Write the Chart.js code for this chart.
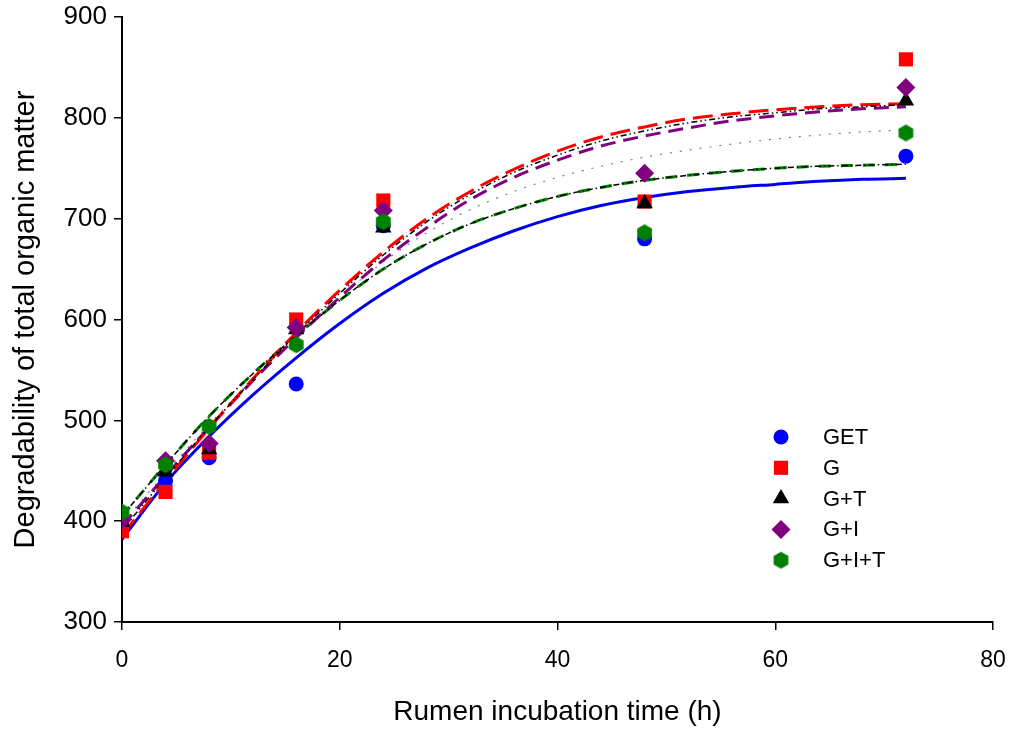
<!DOCTYPE html>
<html lang="en">
<head>
  <meta charset="UTF-8">
  <title>Degradability of total organic matter</title>
  <script src="https://cdn.jsdelivr.net/npm/chart.js"></script>
  <style>
    body { margin: 0; background: #fff; overflow: hidden; }
    #wrap { width: 1013px; height: 729px; }
  </style>
</head>
<body>
  <div id="wrap">
    <canvas id="degChart"></canvas>
  </div>

  <script>
    // Sampling times (h) of the measured points
    const times = [0, 4, 8, 16, 24, 48, 72];

    // Measured values per treatment
    const getPts = [395, 440, 463, 536, 693, 680, 762];
    const gPts   = [390, 429, 468, 600, 718, 717, 858];
    const gtPts  = [399, 449, 471, 590, 691, 715, 817];
    const giPts  = [401, 460, 477, 592, 708, 745, 830];
    const gitPts = [409, 456, 494, 575, 697, 686, 785];

    // Fitted curves, every 4 h
    const fitTimes = [0, 4, 8, 12, 16, 20, 24, 28, 32, 36, 40, 44, 48, 52, 56, 60, 64, 68, 72];
    const getFit   = [382, 438, 484, 525, 562, 596, 626, 651, 671, 688, 702, 713, 721, 727, 731, 734, 737, 739, 740];
    const gFit     = [386, 440, 492, 541, 587, 629, 667, 700, 727, 749, 767, 781, 791, 799, 804, 808, 811, 813, 814];
    const gtFit    = [391, 443, 493, 540, 585, 626, 664, 697, 724, 746, 763, 777, 787, 795, 801, 805, 809, 811, 813];
    const giFit    = [395, 445, 493, 539, 582, 622, 659, 691, 719, 741, 758, 772, 782, 790, 797, 802, 806, 809, 811];
    const gitFit   = [405, 456, 504, 546, 584, 619, 650, 675, 695, 710, 722, 731, 738, 743, 747, 750, 752, 753, 754];
    const dotFit   = [398, 448, 496, 541, 583, 622, 657, 686, 709, 727, 741, 752, 761, 768, 774, 779, 783, 786, 788];

    const xTicks = [0, 20, 40, 60, 80];
    const yTicks = [300, 400, 500, 600, 700, 800, 900];

    const seriesNames = ['GET', 'G', 'G+T', 'G+I', 'G+I+T'];

    const FONT = '"Liberation Sans", Arial, sans-serif';

    function toXY(xs, ys) {
      return xs.map((x, i) => ({ x: x, y: ys[i] }));
    }

    // Chart.js has no hexagon, so use a small canvas as point style
    function hexImage(color, r) {
      const c = document.createElement('canvas');
      const s = Math.ceil(r * 2) + 2;
      c.width = s; c.height = s;
      const g = c.getContext('2d');
      g.fillStyle = color;
      g.beginPath();
      for (let i = 0; i < 6; i++) {
        const a = Math.PI / 3 * i - Math.PI / 2;
        g.lineTo(s / 2 + r * Math.cos(a), s / 2 + r * Math.sin(a));
      }
      g.closePath();
      g.fill();
      return c;
    }

    function points(label, ys, color, style, radius) {
      return {
        label: label,
        data: toXY(times, ys),
        pointStyle: style,
        pointRadius: radius,
        pointHoverRadius: radius,
        backgroundColor: color,
        borderColor: color,
        pointBorderWidth: 0,
        showLine: false
      };
    }

    function curve(label, ys, color, width, dash) {
      return {
        label: label,
        data: toXY(fitTimes, ys),
        showLine: true,
        pointRadius: 0,
        borderColor: color,
        borderWidth: width,
        borderDash: dash,
        cubicInterpolationMode: 'monotone',
        fill: false
      };
    }

    // first dataset is drawn on top
    const datasets = [
      points('G+I+T', gitPts, '#008000', hexImage('#008000', 8.5), 8),
      points('G+I', giPts, '#800080', 'rectRot', 9.5),
      points('G+T', gtPts, '#000000', 'triangle', 9.5),
      points('G', gPts, '#ff0000', 'rect', 10),
      points('GET', getPts, '#0000ff', 'circle', 7.5),
      curve('fit G+T', gtFit, '#000000', 1.5, [6, 3, 1.5, 3, 1.5, 3]),
      curve('fit G+I+T (line)', gitFit, '#000000', 1.5, [6, 3, 1.5, 3]),
      curve('fit GET (line)', getFit, '#000000', 1, [1, 4]),
      curve('fit G', gFit, '#ff0000', 3, [20, 8]),
      curve('fit G+I', giFit, '#800080', 3, [15, 8]),
      curve('fit dotted', dotFit, '#808080', 1.2, [2, 8]),
      curve('fit G+I+T', gitFit, '#008000', 3, [12, 10]),
      curve('fit GET', getFit, '#0000ff', 3, [])
    ];

    const insideLegend = {
      id: 'insideLegend',
      afterDraw(chart) {
        const ctx = chart.ctx;
        ctx.save();
        ctx.font = '22px ' + FONT;
        ctx.textBaseline = 'middle';
        seriesNames.forEach((name, i) => {
          const ds = chart.data.datasets.find(d => d.label === name);
          const y = 437 + i * 30.8;
          ctx.fillStyle = ds.backgroundColor;
          Chart.helpers.drawPoint(ctx, {
            pointStyle: ds.pointStyle,
            radius: ds.pointRadius,
            rotation: 0,
            borderWidth: 0
          }, 781, y);
          ctx.fillStyle = '#000';
          ctx.fillText(name, 823, y + 1);
        });
        ctx.restore();
      }
    };

    const ctx = document.getElementById('degChart').getContext('2d');
    const degChart = new Chart(ctx, {
      type: 'scatter',
      data: { datasets: datasets },
      plugins: [insideLegend],
      options: {
        responsive: true,
        maintainAspectRatio: false,
        animation: false,
        devicePixelRatio: 1,
        layout: { padding: { top: 17, right: 20, left: 0, bottom: 0 } },
        plugins: {
          legend: { display: false },
          tooltip: { enabled: false }
        },
        scales: {
          x: {
            type: 'linear',
            min: 0,
            max: 80,
            afterBuildTicks: (scale) => { scale.ticks = xTicks.map(v => ({ value: v })); },
            afterFit: (scale) => {
              scale.height = 107;
              scale.paddingLeft = 0;
              scale.paddingRight = 0;
            },
            grid: { drawOnChartArea: false, drawTicks: true, tickLength: 8, color: '#000', lineWidth: 1.5 },
            border: { color: '#000', width: 2 },
            ticks: { color: '#000', font: { family: FONT, size: 23 }, padding: 17, maxRotation: 0 },
            title: {
              display: true,
              text: 'Rumen incubation time (h)',
              color: '#000',
              font: { family: FONT, size: 28 },
              padding: { top: 0, bottom: 0 }
            }
          },
          y: {
            type: 'linear',
            min: 300,
            max: 900,
            afterBuildTicks: (scale) => { scale.ticks = yTicks.map(v => ({ value: v })); },
            afterFit: (scale) => {
              scale.width = 122;
              scale.paddingTop = 0;
              scale.paddingBottom = 0;
            },
            grid: { drawOnChartArea: false, drawTicks: true, tickLength: 8, color: '#000', lineWidth: 1.5 },
            border: { color: '#000', width: 2 },
            ticks: { color: '#000', font: { family: FONT, size: 26 }, padding: 7 },
            title: {
              display: true,
              text: 'Degradability of total organic matter',
              color: '#000',
              font: { family: FONT, size: 29 },
              padding: { top: 9, bottom: 4 }
            }
          }
        }
      }
    });
  </script>
</body>
</html>
